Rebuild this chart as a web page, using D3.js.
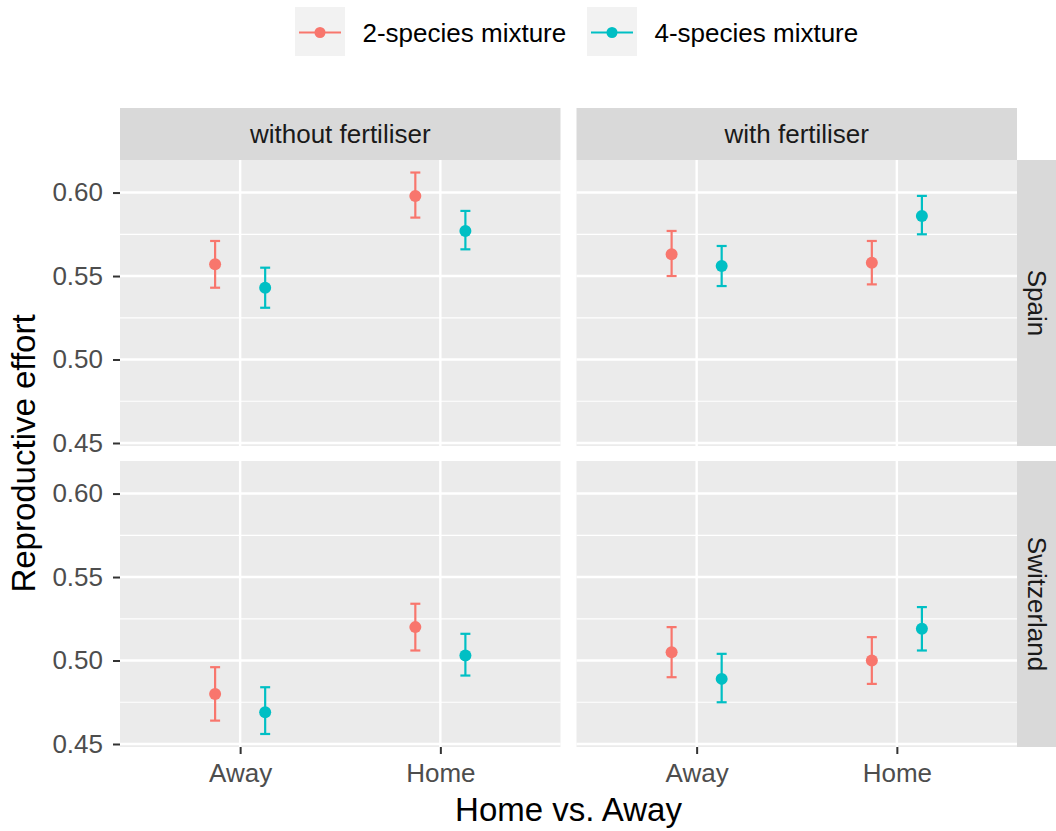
<!DOCTYPE html>
<html>
<head>
<meta charset="utf-8">
<script src="https://cdn.jsdelivr.net/npm/d3@7"></script>
<style>
  body { margin: 0; background: #fff; }
  svg text { font-family: "Liberation Sans", Arial, sans-serif; }
</style>
</head>
<body>
<svg id="chart" width="1056" height="831"></svg>
<script>
// facets and groups
const mixtures = ["2-species mixture", "4-species mixture"];
const treatments = ["without fertiliser", "with fertiliser"];
const countries = ["Spain", "Switzerland"];
const sites = ["Away", "Home"];
const y_ticks = [0.45, 0.50, 0.55, 0.60];
const y_minor = [0.475, 0.525, 0.575];

// order: Spain/without Away, Home, Spain/with Away, Home, Switzerland/without Away, Home, Switzerland/with Away, Home
const mean_2sp  = [0.557, 0.598, 0.563, 0.558, 0.480, 0.520, 0.505, 0.500];
const lower_2sp = [0.543, 0.585, 0.550, 0.545, 0.464, 0.506, 0.490, 0.486];
const upper_2sp = [0.571, 0.612, 0.577, 0.571, 0.496, 0.534, 0.520, 0.514];
const mean_4sp  = [0.543, 0.577, 0.556, 0.586, 0.469, 0.503, 0.489, 0.519];
const lower_4sp = [0.531, 0.566, 0.544, 0.575, 0.456, 0.491, 0.475, 0.506];
const upper_4sp = [0.555, 0.589, 0.568, 0.598, 0.484, 0.516, 0.504, 0.532];

const colors = ["#F8766D", "#00BFC4"];

let rows = [];
[[mean_2sp, lower_2sp, upper_2sp], [mean_4sp, lower_4sp, upper_4sp]].forEach((s, m) => {
  s[0].forEach((v, i) => {
    rows.push({
      mixture: m,
      country: Math.floor(i / 4),
      treatment: Math.floor(i / 2) % 2,
      site: sites[i % 2],
      mean: v, lo: s[1][i], hi: s[2][i]
    });
  });
});

let svg = d3.select("#chart");

let panel_left = [120, 576.5];
let panel_top = [160, 461];
let panel_w = 440.5;
let panel_h = 286;
let strip_h = 52;
let strip_w = 39.5;
let small_font = "26px";
let title_font = "33px";

let x = d3.scalePoint().domain(sites).range([0, panel_w]).padding(0.6);
let dodge = x.step() * 0.125;
let y = d3.scaleLinear().domain([0.4482, 0.6195]).range([panel_h, 0]);

countries.forEach((country, r) => {
  treatments.forEach((treat, c) => {
    let g = svg.append("g").attr("class", "panel")
      .attr("transform", "translate(" + panel_left[c] + "," + panel_top[r] + ")");

    g.append("rect").attr("width", panel_w).attr("height", panel_h).attr("fill", "#EBEBEB");

    g.selectAll(".minor").data(y_minor).enter().append("line").attr("class", "minor")
      .attr("x1", 0).attr("x2", panel_w)
      .attr("y1", d => y(d)).attr("y2", d => y(d))
      .attr("stroke", "#fff").attr("stroke-width", 1.2);

    g.selectAll(".major").data(y_ticks).enter().append("line").attr("class", "major")
      .attr("x1", 0).attr("x2", panel_w)
      .attr("y1", d => y(d)).attr("y2", d => y(d))
      .attr("stroke", "#fff").attr("stroke-width", 2.4);

    g.selectAll(".vmajor").data(sites).enter().append("line").attr("class", "vmajor")
      .attr("x1", d => x(d)).attr("x2", d => x(d))
      .attr("y1", 0).attr("y2", panel_h)
      .attr("stroke", "#fff").attr("stroke-width", 2.4);

    let pts = rows.filter(d => d.country == r && d.treatment == c);
    let px = d => x(d.site) + (d.mixture == 0 ? -dodge : dodge);

    let bars = g.selectAll(".err").data(pts).enter().append("g").attr("class", "err")
      .attr("stroke", d => colors[d.mixture]).attr("stroke-width", 2.2);
    bars.append("line").attr("x1", px).attr("x2", px)
      .attr("y1", d => y(d.lo)).attr("y2", d => y(d.hi));
    bars.append("line").attr("x1", d => px(d) - 5).attr("x2", d => px(d) + 5)
      .attr("y1", d => y(d.lo)).attr("y2", d => y(d.lo));
    bars.append("line").attr("x1", d => px(d) - 5).attr("x2", d => px(d) + 5)
      .attr("y1", d => y(d.hi)).attr("y2", d => y(d.hi));

    g.selectAll(".pt").data(pts).enter().append("circle").attr("class", "pt")
      .attr("cx", px).attr("cy", d => y(d.mean)).attr("r", 6)
      .attr("fill", d => colors[d.mixture]);

    // y axis on left column only
    if (c == 0) {
      let ya = g.append("g").call(d3.axisLeft(y).tickValues(y_ticks).tickFormat(d3.format(".2f")).tickSize(7).tickPadding(10));
      ya.select(".domain").remove();
      ya.selectAll(".tick line").attr("stroke", "#333").attr("stroke-width", 2);
      ya.selectAll(".tick text").attr("fill", "#4D4D4D").style("font-size", small_font);
    }
    // x axis on bottom row only
    if (r == 1) {
      let xa = g.append("g").attr("transform", "translate(0," + panel_h + ")")
        .call(d3.axisBottom(x).tickSize(7).tickPadding(10));
      xa.select(".domain").remove();
      xa.selectAll(".tick line").attr("stroke", "#333").attr("stroke-width", 2);
      xa.selectAll(".tick text").attr("fill", "#4D4D4D").style("font-size", small_font);
    }
  });

  // right strip
  let sy = panel_top[r];
  let sx = panel_left[1] + panel_w;
  svg.append("rect").attr("x", sx).attr("y", sy).attr("width", strip_w).attr("height", panel_h).attr("fill", "#D9D9D9");
  svg.append("text").attr("transform", "translate(" + (sx + strip_w / 2) + "," + (sy + panel_h / 2) + ") rotate(90)")
    .attr("text-anchor", "middle").attr("dy", "0.35em")
    .attr("fill", "#1A1A1A").style("font-size", small_font).text(country);
});

// top strips
treatments.forEach((treat, c) => {
  svg.append("rect").attr("x", panel_left[c]).attr("y", panel_top[0] - strip_h)
    .attr("width", panel_w).attr("height", strip_h).attr("fill", "#D9D9D9");
  svg.append("text").attr("x", panel_left[c] + panel_w / 2).attr("y", panel_top[0] - strip_h / 2)
    .attr("text-anchor", "middle").attr("dy", "0.35em")
    .attr("fill", "#1A1A1A").style("font-size", small_font).text(treat);
});

// axis titles
svg.append("text").attr("x", (panel_left[0] + panel_left[1] + panel_w) / 2).attr("y", 821)
  .attr("text-anchor", "middle").attr("fill", "#000").style("font-size", title_font).text("Home vs. Away");
svg.append("text").attr("transform", "translate(35," + ((panel_top[0] + panel_top[1] + panel_h) / 2) + ") rotate(-90)")
  .attr("text-anchor", "middle").attr("fill", "#000").style("font-size", title_font).text("Reproductive effort");

// legend
let key_x = [295, 587];
let legend = svg.selectAll(".legend").data(mixtures).enter().append("g").attr("class", "legend")
  .attr("transform", (d, i) => "translate(" + key_x[i] + ",7)");
legend.append("rect").attr("width", 50).attr("height", 49).attr("fill", "#F2F2F2");
legend.append("line").attr("x1", 4).attr("x2", 46).attr("y1", 25.5).attr("y2", 25.5)
  .attr("stroke", (d, i) => colors[i]).attr("stroke-width", 2.2);
legend.append("circle").attr("cx", 25).attr("cy", 25.5).attr("r", 5.5).attr("fill", (d, i) => colors[i]);
legend.append("text").attr("x", 67.5).attr("y", 25.5).attr("dy", "0.35em")
  .attr("fill", "#000").style("font-size", small_font).text(d => d);
</script>
</body>
</html>
